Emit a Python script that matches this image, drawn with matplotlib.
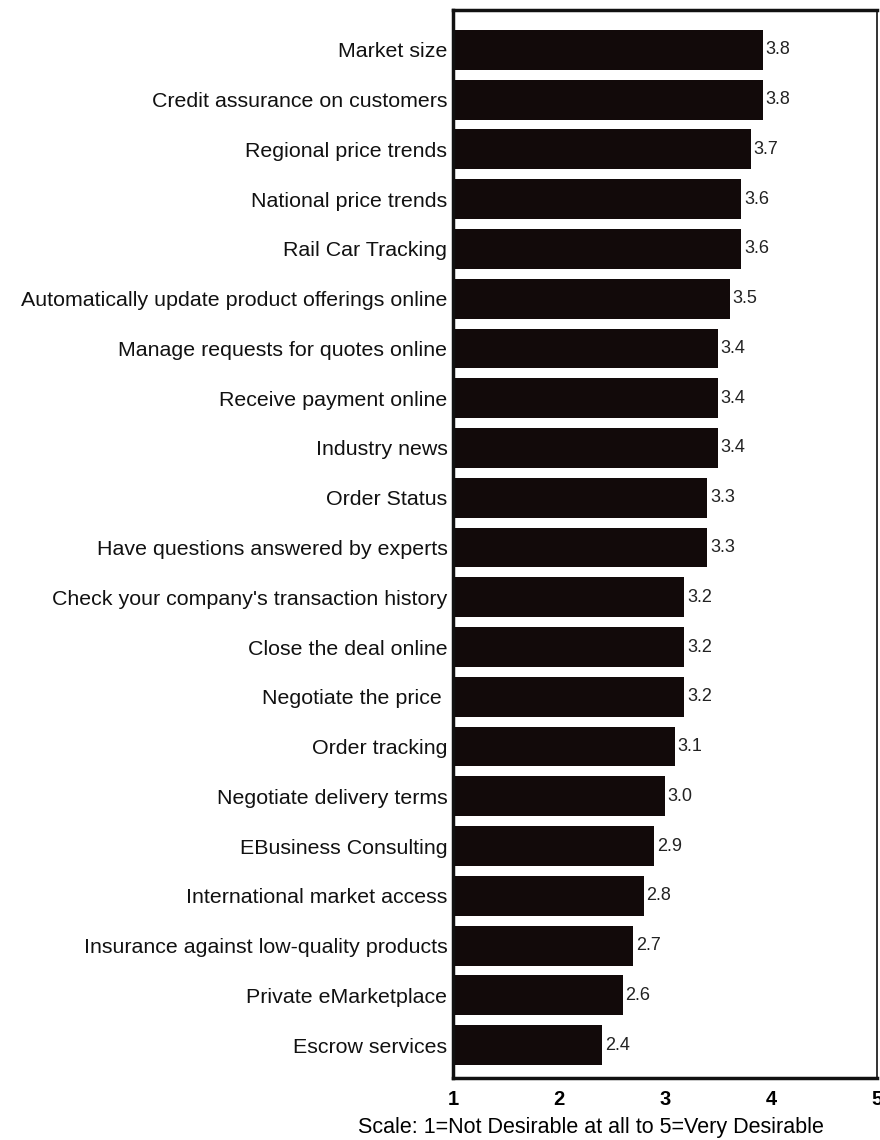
import numpy as np
import matplotlib.pyplot as plt

plt.rcParams['font.family'] = ['Liberation Sans', 'DejaVu Sans']

features = ["Market size", "Credit assurance on customers", "Regional price trends",
            "National price trends", "Rail Car Tracking",
            "Automatically update product offerings online",
            "Manage requests for quotes online", "Receive payment online",
            "Industry news", "Order Status", "Have questions answered by experts",
            "Check your company's transaction history", "Close the deal online",
            "Negotiate the price ", "Order tracking", "Negotiate delivery terms",
            "EBusiness Consulting", "International market access",
            "Insurance against low-quality products", "Private eMarketplace",
            "Escrow services"]
# bar lengths as measured, and the printed labels
scores = [3.92, 3.92, 3.81, 3.72, 3.72, 3.61, 3.50, 3.50, 3.50, 3.40, 3.40,
          3.18, 3.18, 3.18, 3.09, 3.00, 2.90, 2.80, 2.70, 2.60, 2.41]
labels = ["3.8", "3.8", "3.7", "3.6", "3.6", "3.5", "3.4", "3.4", "3.4", "3.3", "3.3",
          "3.2", "3.2", "3.2", "3.1", "3.0", "2.9", "2.8", "2.7", "2.6", "2.4"]
ticks = [1, 2, 3, 4, 5]

fig = plt.figure(figsize=(8.8, 11.4), dpi=100)
ax = fig.add_axes([0.5148, 0.0544, 0.4818, 0.9368])

y = np.arange(len(features))
vals = np.array(scores) - 1
ax.barh(y, vals, left=1, height=0.8, color='#120a0a')

for yi, v, lab in zip(y, scores, labels):
    ax.annotate(lab, (v, yi), xytext=(2, 0), textcoords='offset points',
                va='center', ha='left', fontsize=13, color='#222222')

ax.set_yticks(y)
ax.set_yticklabels(features, fontsize=15.4, color='#111111')
ax.set_xticks(ticks)
ax.set_xticklabels([str(t) for t in ticks], fontsize=14.5, fontweight='bold')
ax.tick_params(axis='y', length=0, pad=4)
ax.tick_params(axis='x', length=0, pad=9)
ax.set_xlim(1, 5)
ax.set_ylim(20.66, -0.8)

for s in ax.spines.values():
    s.set_linewidth(2.5)
    s.set_color('#111111')
ax.spines['right'].set_linewidth(1.2)

fig.text(591 / 880, 1 - 1127 / 1140, "Scale: 1=Not Desirable at all to 5=Very Desirable",
         ha='center', va='center', fontsize=15.5)

fig.savefig('out.png', dpi=100)
